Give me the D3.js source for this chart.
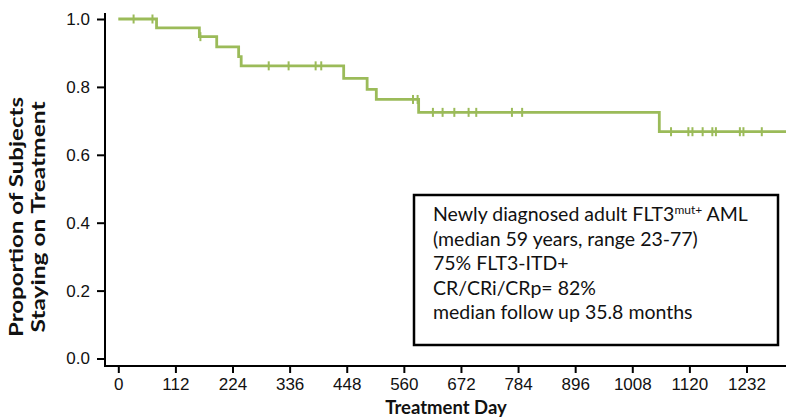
<!DOCTYPE html>
<html>
<head>
<meta charset="utf-8">
<script src="https://cdn.jsdelivr.net/npm/d3@7"></script>
<style>
  body { margin: 0; background: #fff; }
  svg { display: block; font-family: Lato, "Open Sans", sans-serif; }
</style>
</head>
<body>
<svg id="chart" width="786" height="419"></svg>
<script>
// Kaplan-Meier step data (time in days, proportion staying on treatment)
const stepTimes = [0, 75, 159, 193, 236, 241, 442, 488, 506, 589, 1061];
const stepValues = [1.0, 0.974, 0.948, 0.918, 0.889, 0.862, 0.825, 0.793, 0.763, 0.725, 0.668];
const lastTime = 1310;

// censored subjects (tick marks)
const censorTimes = [30, 67, 161, 295, 334, 387, 398, 578, 587,
  617, 636, 659, 687, 702, 772, 792,
  1084, 1118, 1126, 1146, 1165, 1172, 1219, 1226, 1262];

const xTicks = [0, 112, 224, 336, 448, 560, 672, 784, 896, 1008, 1120, 1232];
const yTicks = [0, 0.2, 0.4, 0.6, 0.8, 1.0];

const yTitle = ["Proportion of Subjects", "Staying on Treatment"];
const boxLines = [
  ["Newly diagnosed adult FLT3", "mut+", " AML"],
  ["(median 59 years, range 23-77)"],
  ["75% FLT3-ITD+"],
  ["CR/CRi/CRp= 82%"],
  ["median follow up 35.8 months"]
];

const green = "#9bbb59";
const svg = d3.select("#chart");

const x = d3.scaleLinear().domain([0, 1232]).range([118.3, 746.5]);
const y = d3.scaleLinear().domain([0, 1]).range([358.5, 19]);

const axisLeft = 105, axisBottom = 366;

// x axis
const gx = svg.append("g")
  .attr("transform", `translate(0,${axisBottom})`)
  .call(d3.axisBottom(x).tickValues(xTicks).tickFormat(d3.format("d"))
    .tickSize(7).tickPadding(5).tickSizeOuter(0));
gx.select(".domain").remove();
gx.selectAll(".tick line").attr("stroke", "#000").attr("stroke-width", 2);
gx.selectAll(".tick text").attr("font-size", 17).attr("fill", "#111").attr("font-family", null);

// y axis
const gy = svg.append("g")
  .attr("transform", `translate(${axisLeft},0)`)
  .call(d3.axisLeft(y).tickValues(yTicks).tickFormat(d3.format(".1f"))
    .tickSize(8).tickPadding(7).tickSizeOuter(0));
gy.select(".domain").remove();
gy.selectAll(".tick line").attr("stroke", "#000").attr("stroke-width", 2);
gy.selectAll(".tick text").attr("font-size", 17).attr("fill", "#111").attr("font-family", null);

svg.append("line").attr("x1", axisLeft).attr("x2", 786)
  .attr("y1", axisBottom).attr("y2", axisBottom)
  .attr("stroke", "#000").attr("stroke-width", 2);
svg.append("line").attr("x1", axisLeft).attr("x2", axisLeft)
  .attr("y1", 13).attr("y2", axisBottom + 1)
  .attr("stroke", "#000").attr("stroke-width", 2);

// KM curve
const pts = stepTimes.map((t, i) => [t, stepValues[i]]);
pts.push([lastTime, stepValues[stepValues.length - 1]]);
const line = d3.line().curve(d3.curveStepAfter).x(d => x(d[0])).y(d => y(d[1]));
svg.append("path").attr("d", line(pts))
  .attr("fill", "none").attr("stroke", green).attr("stroke-width", 2.8);

function survAt(t) {
  let v = stepValues[0];
  for (let i = 0; i < stepTimes.length; i++) if (stepTimes[i] <= t) v = stepValues[i];
  return v;
}
svg.append("g").selectAll("line").data(censorTimes).join("line")
  .attr("x1", d => x(d)).attr("x2", d => x(d))
  .attr("y1", d => y(survAt(d)) - 4.5).attr("y2", d => y(survAt(d)) + 4.5)
  .attr("stroke", green).attr("stroke-width", 2);

// axis titles
svg.append("text").attr("x", 446).attr("y", 414)
  .attr("text-anchor", "middle").attr("font-weight", "bold").attr("font-size", 18.5)
  .attr("fill", "#111").text("Treatment Day");
// the source's rotated title is drawn stretched along its length
const yt = svg.append("text").attr("transform", "translate(0,217) rotate(-90)")
  .attr("text-anchor", "middle").attr("font-weight", "bold").attr("font-size", 18).attr("fill", "#111");
yt.append("tspan").attr("x", 0).attr("y", 22.5)
  .attr("textLength", 240).attr("lengthAdjust", "spacingAndGlyphs").text(yTitle[0]);
yt.append("tspan").attr("x", 0).attr("y", 44.5)
  .attr("textLength", 231).attr("lengthAdjust", "spacingAndGlyphs").text(yTitle[1]);

// annotation box
svg.append("rect").attr("x", 414).attr("y", 195).attr("width", 364).attr("height", 150)
  .attr("fill", "#fff").attr("stroke", "#000").attr("stroke-width", 2.5);
const bt = svg.append("text").attr("font-size", 19.5).attr("fill", "#111");
boxLines.forEach((parts, i) => {
  const baseY = 221 + i * 24.5;
  bt.append("tspan").attr("x", 433).attr("y", baseY).text(parts[0]);
  if (parts.length > 1) {
    bt.append("tspan").attr("font-size", 12).attr("dy", -7).text(parts[1]);
    bt.append("tspan").attr("dy", 7).text(parts[2]);
  }
});
</script>
</body>
</html>
